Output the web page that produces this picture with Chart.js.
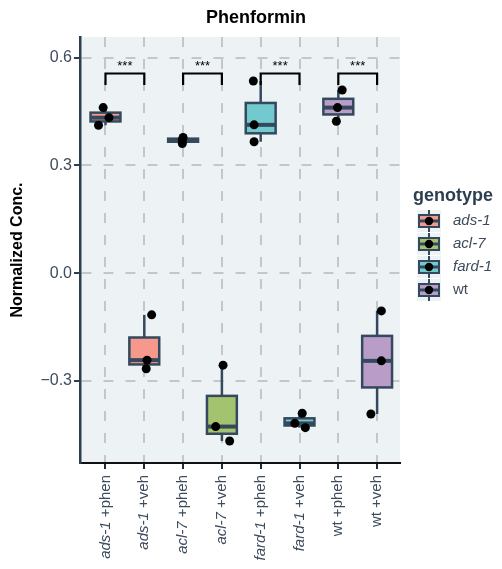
<!DOCTYPE html>
<html>
<head>
<meta charset="utf-8">
<script src="https://cdn.jsdelivr.net/npm/chart.js@4.4.1/dist/chart.umd.min.js"></script>
<style>
  html, body { margin: 0; padding: 0; background: #fff; }
</style>
</head>
<body>
<canvas id="chart" width="502" height="569"></canvas>
<script>
// x categories: genotype part is drawn in italics, treatment part upright
const genes = ['ads-1', 'ads-1', 'acl-7', 'acl-7', 'fard-1', 'fard-1', 'wt', 'wt'];
const treatments = ['+phen', '+veh', '+pheh', '+veh', '+pheh', '+veh', '+pheh', '+veh'];
const legendGenes = ['ads-1', 'acl-7', 'fard-1', 'wt'];

// measured replicates per group (normalized concentration)
const conc = [
    [0.461, 0.433, 0.412],
    [-0.116, -0.242, -0.266],
    [0.378, 0.371, 0.361],
    [-0.256, -0.427, -0.467],
    [0.535, 0.413, 0.366],
    [-0.390, -0.418, -0.430],
    [0.510, 0.461, 0.423],
    [-0.105, -0.244, -0.392]
];
// horizontal jitter of each point, in category units
const jitter = [
    [-0.06, 0.09, -0.18],
    [0.19, 0.07, 0.05],
    [0.00, -0.02, -0.02],
    [0.03, -0.16, 0.20],
    [-0.19, -0.17, -0.17],
    [0.07, -0.12, 0.15],
    [0.10, -0.02, -0.05],
    [0.11, 0.11, -0.16]
];

const yTicks = [-0.3, 0, 0.3, 0.6];
const pairs = [[1, 2], [3, 4], [5, 6], [7, 8]];
const pairLabels = ['***', '***', '***', '***'];

const fills = { 'ads-1': '#f4998c', 'acl-7': '#a3c36f', 'fard-1': '#72cacf', 'wt': '#b99dc8' };
const edge = '#34495e';
const textCol = '#3d4b5c';
const FONT = '"Liberation Sans", Arial, sans-serif';

// box stats (R type 7 quantiles) from the replicates
function quant(sorted, p) {
    const h = (sorted.length - 1) * p;
    const lo = Math.floor(h);
    return sorted[lo] + (h - lo) * ((sorted[lo + 1] ?? sorted[lo]) - sorted[lo]);
}
const stats = conc.map(vals => {
    const s = [...vals].sort((a, b) => a - b);
    return { lo: s[0], q1: quant(s, 0.25), med: quant(s, 0.5), q3: quant(s, 0.75), hi: s[s.length - 1] };
});

const boxData = stats.map((s, i) => ({ x: i + 1, y: [s.q1, s.q3] }));
const pointData = [];
conc.forEach((vals, i) => vals.forEach((v, j) => pointData.push({ x: i + 1 + jitter[i][j], y: v })));

const extras = {
    id: 'extras',
    beforeDraw(chart) {
        const { ctx, chartArea: a } = chart;
        ctx.save();
        ctx.fillStyle = '#fff';
        ctx.fillRect(0, 0, chart.width, chart.height);
        ctx.fillStyle = '#edf2f5';
        ctx.fillRect(a.left, a.top, a.right - a.left, a.bottom - a.top);
        ctx.restore();
    },
    beforeDatasetsDraw(chart) {
        // whiskers
        const { ctx, scales: { x, y } } = chart;
        ctx.save();
        ctx.strokeStyle = edge;
        ctx.lineWidth = 2.5;
        stats.forEach((s, i) => {
            const px = x.getPixelForValue(i + 1);
            ctx.beginPath();
            ctx.moveTo(px, y.getPixelForValue(s.hi));
            ctx.lineTo(px, y.getPixelForValue(s.lo));
            ctx.stroke();
        });
        ctx.restore();
    },
    afterDatasetDraw(chart, args) {
        if (args.index !== 0) return;
        // box outline (centred on the edge, like ggplot) and median line
        const { ctx, scales: { y } } = chart;
        const bars = chart.getDatasetMeta(0).data;
        ctx.save();
        ctx.strokeStyle = edge;
        stats.forEach((s, i) => {
            const b = bars[i];
            const left = b.x - b.width / 2;
            const top = Math.min(b.y, b.base), bot = Math.max(b.y, b.base);
            ctx.lineWidth = 2.5;
            ctx.strokeRect(left, top, b.width, bot - top);
            const py = y.getPixelForValue(s.med);
            ctx.lineWidth = 4;
            ctx.beginPath();
            ctx.moveTo(left, py);
            ctx.lineTo(left + b.width, py);
            ctx.stroke();
        });
        ctx.restore();
    },
    afterDraw(chart) {
        const { ctx, chartArea: a, scales: { x, y } } = chart;
        ctx.save();

        // significance brackets
        ctx.strokeStyle = '#000';
        ctx.lineWidth = 2.2;
        ctx.fillStyle = '#000';
        ctx.font = '13px ' + FONT;
        ctx.textAlign = 'center';
        ctx.textBaseline = 'alphabetic';
        pairs.forEach(([p, q], k) => {
            const x1 = x.getPixelForValue(p), x2 = x.getPixelForValue(q);
            const top = y.getPixelForValue(0.556), tip = y.getPixelForValue(0.524);
            ctx.beginPath();
            ctx.moveTo(x1, tip);
            ctx.lineTo(x1, top);
            ctx.lineTo(x2, top);
            ctx.lineTo(x2, tip);
            ctx.stroke();
            ctx.fillText(pairLabels[k], (x1 + x2) / 2, y.getPixelForValue(0.567));
        });

        // title
        ctx.font = 'bold 18px ' + FONT;
        ctx.fillText('Phenformin', 256, 23);

        // y axis title
        ctx.save();
        ctx.translate(18, (a.top + a.bottom) / 2);
        ctx.rotate(-Math.PI / 2);
        ctx.textBaseline = 'middle';
        ctx.font = 'bold 16px ' + FONT;
        ctx.fillText('Normalized Conc.', 0, 0);
        ctx.restore();

        // x tick labels, rotated, gene part italic
        ctx.fillStyle = textCol;
        genes.forEach((g, i) => {
            const px = x.getPixelForValue(i + 1);
            ctx.save();
            ctx.translate(px, a.bottom + 12);
            ctx.rotate(-Math.PI / 2);
            ctx.textAlign = 'right';
            ctx.textBaseline = 'middle';
            ctx.font = '15px ' + FONT;
            const suffix = ' ' + treatments[i];
            const w = ctx.measureText(suffix).width;
            ctx.fillText(suffix, 0, 0);
            ctx.font = (g === 'wt' ? '' : 'italic ') + '15px ' + FONT;
            ctx.fillText(g, -w, 0);
            ctx.restore();
        });

        // legend
        ctx.textAlign = 'left';
        ctx.textBaseline = 'middle';
        ctx.fillStyle = '#2c3e50';
        ctx.font = 'bold 18px ' + FONT;
        ctx.fillText('genotype', 413, 196);
        legendGenes.forEach((g, i) => {
            const cy = 221 + i * 23, cx = 429;
            ctx.fillStyle = '#edf2f5';
            ctx.fillRect(cx - 12, cy - 11, 24, 22);
            ctx.strokeStyle = edge;
            ctx.lineWidth = 2;
            ctx.beginPath();
            ctx.moveTo(cx, cy - 11);
            ctx.lineTo(cx, cy + 11);
            ctx.stroke();
            ctx.fillStyle = fills[g];
            ctx.fillRect(cx - 10, cy - 6, 20, 12);
            ctx.strokeRect(cx - 10, cy - 6, 20, 12);
            ctx.lineWidth = 3;
            ctx.beginPath();
            ctx.moveTo(cx - 10, cy);
            ctx.lineTo(cx + 10, cy);
            ctx.stroke();
            ctx.fillStyle = '#000';
            ctx.beginPath();
            ctx.arc(cx, cy, 4.2, 0, Math.PI * 2);
            ctx.fill();
            ctx.fillStyle = textCol;
            ctx.font = (g === 'wt' ? '' : 'italic ') + '15px ' + FONT;
            ctx.fillText(g, 453, cy);
        });
        ctx.restore();
    }
};

new Chart(document.getElementById('chart'), {
    type: 'bar',
    data: {
        datasets: [{
            type: 'bar',
            data: boxData,
            backgroundColor: genes.map(g => fills[g]),
            borderWidth: 0,
            categoryPercentage: 1,
            barPercentage: 0.77,
            order: 1
        }, {
            type: 'scatter',
            data: pointData,
            pointRadius: 4.5,
            pointBackgroundColor: '#000',
            pointBorderWidth: 0,
            order: 0
        }]
    },
    options: {
        responsive: false,
        devicePixelRatio: 1,
        animation: false,
        layout: { padding: { top: 37, right: 102, left: 0, bottom: 0 } },
        plugins: {
            legend: { display: false },
            tooltip: { enabled: false }
        },
        scales: {
            x: {
                type: 'linear',
                offset: false,
                min: 0.343,
                max: 8.59,
                afterBuildTicks: axis => { axis.ticks = genes.map((g, i) => ({ value: i + 1 })); },
                afterFit: axis => { axis.height = 106; },
                ticks: { display: false },
                grid: {
                    offset: false,
                    color: '#c3c7cb',
                    lineWidth: 2,
                    tickLength: 6,
                    tickColor: '#1f2a36',
                    tickWidth: 2
                },
                border: { color: '#111', width: 2, dash: [10, 12] }
            },
            y: {
                min: -0.5284,
                max: 0.6576,
                afterBuildTicks: axis => { axis.ticks = yTicks.map(v => ({ value: v })); },
                afterFit: axis => { axis.width = 80; },
                ticks: {
                    color: textCol,
                    font: { size: 16, family: FONT },
                    padding: 2,
                    callback: v => (v < 0 ? '\u2212' : '') + Math.abs(v).toFixed(1)
                },
                grid: {
                    color: '#c3c7cb',
                    lineWidth: 2,
                    tickLength: 6,
                    tickColor: '#2c3e50',
                    tickWidth: 2
                },
                border: { color: '#2c3e50', width: 2.5, dash: [10, 12] }
            }
        }
    },
    plugins: [extras]
});
</script>
</body>
</html>
